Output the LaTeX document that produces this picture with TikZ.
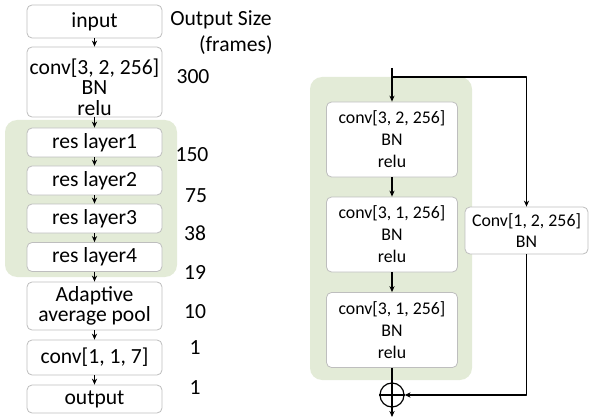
\documentclass[tikz,border=0pt]{standalone}
\usepackage{fontspec}
\setmainfont{Carlito}
\usetikzlibrary{arrows.meta}
\definecolor{resgreen}{RGB}{227,235,215}
\definecolor{boxgray}{RGB}{190,190,190}
\begin{document}
\begin{tikzpicture}[x=0.5pt,y=-0.5pt, line join=round, >={Stealth[length=3pt,width=2.6pt]},
	box/.style={draw=boxgray, fill=white, rounded corners=2.5pt, minimum width=67.5pt, inner sep=0pt, align=center, font=\fontsize{10.8}{10}\selectfont},
	rbox/.style={box, minimum width=65.5pt, minimum height=37.5pt, font=\fontsize{8.9}{11}\selectfont},
	num/.style={font=\fontsize{10.8}{12}\selectfont, inner sep=0pt},
	flow/.style={->, line width=0.6pt}]
	\useasboundingbox (0,0) rectangle (589,417);
	\def\xl{94.5} \def\xr{392} % tâm cột trái, cột phải
	% cột trái
	\fill[resgreen, rounded corners=6pt] (5,120) rectangle (177,277);
	\node[box, minimum height=16.5pt] (in) at (\xl,21.5) {input};
	\node[box, minimum height=35pt] (c1) at (\xl,82) {};
	\node[align=center, inner sep=0pt, font=\fontsize{10.8}{10.3}\selectfont] (c1txt) at (\xl,87) {conv[3, 2, 256]\\BN\\relu};
	\foreach \i/\y in {1/142.5,2/180.5,3/218.5,4/257}
		\node[box, minimum height=14.5pt] (r\i) at (\xl,\y) {res layer\i};
	\node[box, minimum height=24pt] (pool) at (\xl,306) {Adaptive\\average pool};
	\node[box, minimum height=17.5pt] (c2) at (\xl,357.5) {conv[1, 1, 7]};
	\node[box, minimum height=14pt] (out) at (\xl,399) {output};
	\foreach \a/\b in {in/c1,c1/r1,r1/r2,r2/r3,r3/r4,r4/pool,pool/c2,c2/out}
		\draw[->, line width=0.5pt] (\a) -- (\b);
	\node[num] (osize) at (221,20) {Output Size};
	\node[num, anchor=east] (frames) at (273,45) {(frames)};
	\foreach \n/\x/\y [count=\k] in {300/193/77,150/192/155,75/196/196,38/195/233,19/195/272,10/195/312,1/195/348,1/195/388}
		\node[num] (size\k) at (\x,\y) {\n};
	% khối res (cột phải)
	\fill[resgreen, rounded corners=6pt] (310,77) rectangle (472,380);
	\node[rbox] (b1) at (\xr,139.5) {conv[3, 2, 256]\\BN\\relu};
	\node[rbox] (b2) at (\xr,234.5) {conv[3, 1, 256]\\BN\\relu};
	\node[rbox] (b3) at (\xr,330) {conv[3, 1, 256]\\BN\\relu};
	\node[rbox, minimum width=61.5pt, minimum height=23.5pt, font=\fontsize{8.9}{10.5}\selectfont] (sc) at (526.5,230.5) {Conv[1, 2, 256]\\BN};
	\node[draw, circle, minimum size=12pt, inner sep=0pt, line width=0.6pt] (plus) at (\xr,395) {};
	\coordinate (top) at (\xr,68);
	\coordinate (split) at (\xr,77);
	\coordinate (bot) at (\xr,417);
	\draw[flow] (top) -- (b1);
	\draw[flow] (split) -| (sc);
	\draw[flow] (b1) -- (b2);
	\draw[flow] (b2) -- (b3);
	\draw[line width=0.6pt] (b3) -- (plus);
	\draw[flow] (sc) |- (plus);
	\draw[flow] (plus) -- (bot);
	\draw[line width=0.6pt] (plus.north) -- (plus.south) (plus.west) -- (plus.east);
\end{tikzpicture}
\end{document}
